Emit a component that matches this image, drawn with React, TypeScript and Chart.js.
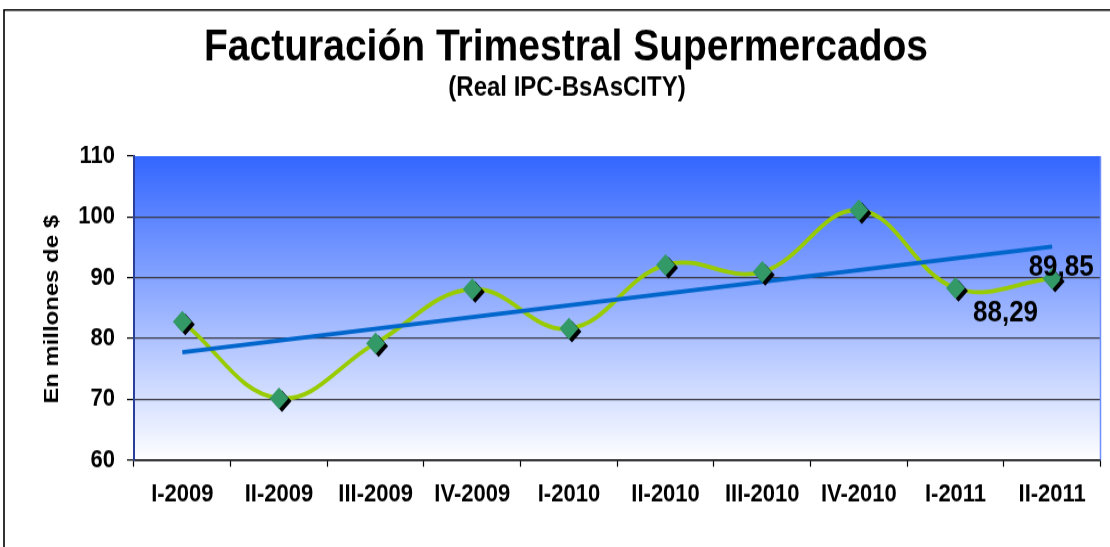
import { useEffect, useRef } from 'react';
import { Chart, registerables } from 'chart.js';

Chart.register(...registerables);

const titleText = 'Facturación Trimestral Supermercados';
const subtitleText = '(Real IPC-BsAsCITY)';
const yTitleText = 'En millones de $';

const categories = ['I-2009', 'II-2009', 'III-2009', 'IV-2009', 'I-2010', 'II-2010', 'III-2010', 'IV-2010', 'I-2011', 'II-2011'];
const facturacion = [82.75, 70.15, 79.2, 88.1, 81.6, 92.1, 90.95, 101.1, 88.29, 89.85];
const tendencia = [77.7, null, null, null, null, null, null, null, null, 95.1];
const yTicks = [60, 70, 80, 90, 100, 110];
const labeledPoints = [8, 9];

const FONT = '"Liberation Sans", Arial, Helvetica, sans-serif';
const W = 1110;
const H = 480; // internal height, stretched to 547 by CSS
const DISPLAY_H = 547;

const fmt = (v: number) => v.toFixed(2).replace('.', ',');

const decor = {
  id: 'decor',
  beforeDraw(chart: any) {
    const { ctx, chartArea: a, width, height } = chart;
    ctx.save();
    ctx.fillStyle = '#ffffff';
    ctx.fillRect(0, 0, width, height);
    const g = ctx.createLinearGradient(0, a.top, 0, a.bottom);
    g.addColorStop(0, '#3366ff');
    g.addColorStop(1, '#ffffff');
    ctx.fillStyle = g;
    ctx.fillRect(a.left, a.top, a.right - a.left, a.bottom - a.top);
    // outer frame
    ctx.strokeStyle = '#000';
    ctx.lineWidth = 1.6;
    ctx.beginPath();
    ctx.moveTo(4, height);
    ctx.lineTo(4, 8.8);
    ctx.lineTo(width, 8.8);
    ctx.stroke();
    // titles
    ctx.fillStyle = '#000';
    ctx.textAlign = 'center';
    ctx.textBaseline = 'middle';
    ctx.font = `bold 39px ${FONT}`;
    ctx.fillText(titleText, 566, 42);
    ctx.font = `bold 24px ${FONT}`;
    ctx.fillText(subtitleText, 567, 77.5);
    ctx.translate(52, 271.5);
    ctx.rotate(-Math.PI / 2);
    ctx.font = `bold 21px ${FONT}`;
    ctx.fillText(yTitleText, 0, 0);
    ctx.restore();
  },
  afterDatasetsDraw(chart: any) {
    const { ctx, chartArea: a } = chart;
    ctx.save();
    ctx.strokeStyle = '#6f8fff';
    ctx.lineWidth = 1.5;
    ctx.beginPath();
    ctx.moveTo(a.right, a.top);
    ctx.lineTo(a.right, a.bottom);
    ctx.stroke();
    const meta = chart.getDatasetMeta(1);
    ctx.fillStyle = '#000';
    ctx.textAlign = 'center';
    ctx.textBaseline = 'middle';
    ctx.font = `bold 26px ${FONT}`;
    const offsets: Record<number, [number, number]> = { 8: [50, 22], 9: [9, -9.5] };
    labeledPoints.forEach((i) => {
      const el = meta.data[i];
      if (!el) return;
      const [dx, dy] = offsets[i] || [0, -15];
      ctx.fillText(fmt(facturacion[i]), el.x + dx, el.y + dy);
    });
    ctx.restore();
  },
};

const shadow = {
  id: 'markerShadow',
  beforeDatasetDraw(chart: any, args: any) {
    if (args.index === 1) {
      const c = chart.ctx;
      c.save();
      c.shadowColor = '#000000';
      c.shadowBlur = 0;
      c.shadowOffsetX = 3;
      c.shadowOffsetY = 2.6;
    }
  },
  afterDatasetDraw(chart: any, args: any) {
    if (args.index === 1) chart.ctx.restore();
  },
};

export default function App() {
  const ref = useRef<HTMLCanvasElement | null>(null);

  useEffect(() => {
    if (!ref.current) return;
    const tickFont = { family: FONT, size: 22, weight: 'bold' as const };
    const chart = new Chart(ref.current, {
      type: 'line',
      data: {
        labels: categories,
        datasets: [
          {
            data: facturacion,
            borderColor: '#99cc00',
            borderWidth: 3.8,
            pointRadius: 0,
            tension: 0.4,
            fill: false,
            order: 2,
          },
          {
            data: facturacion,
            showLine: false,
            pointStyle: 'rectRot',
            pointRadius: 9.5,
            pointHoverRadius: 9.5,
            backgroundColor: '#339966',
            borderColor: '#339966',
            borderWidth: 0,
            order: 0,
          },
          {
            data: tendencia,
            spanGaps: true,
            borderColor: '#0066cc',
            borderWidth: 3.8,
            pointRadius: 0,
            tension: 0,
            fill: false,
            order: 1,
          },
        ],
      },
      options: {
        responsive: false,
        animation: false,
        devicePixelRatio: 1,
        layout: { padding: { top: 137, right: 3, left: 0, bottom: 0 } },
        plugins: {
          legend: { display: false },
          title: { display: false },
          tooltip: { enabled: false },
        },
        events: [],
        scales: {
          x: {
            type: 'category',
            offset: true,
            grid: {
              display: true,
              drawOnChartArea: false,
              offset: true,
              tickLength: 6,
              tickColor: '#000',
              tickWidth: 1.2,
            },
            border: { display: true, color: '#000', width: 1.5 },
            ticks: { color: '#000', font: tickFont, padding: 11.5, maxRotation: 0, autoSkip: false },
            afterFit: (s: any) => {
              s.height = 76.5;
            },
          },
          y: {
            min: 60,
            max: 110,
            afterBuildTicks: (s: any) => {
              s.ticks = yTicks.map((v) => ({ value: v }));
            },
            ticks: { color: '#000', font: tickFont, padding: 12 },
            grid: {
              color: (c: any) => (c.tick && c.tick.value === 110 ? 'rgba(0,0,0,0)' : '#3a3a48'),
              lineWidth: 1.2,
              tickLength: 7,
              tickColor: '#000',
              tickWidth: 1.2,
            },
            border: { display: true, color: '#2a3f9a', width: 2 },
            afterFit: (s: any) => {
              s.width = 134;
            },
          },
        },
      },
      plugins: [decor, shadow],
    });
    return () => chart.destroy();
  }, []);

  return (
    <div style={{ position: 'absolute', left: 0, top: 0, width: W, height: DISPLAY_H, background: '#fff' }}>
      <canvas
        ref={ref}
        width={W}
        height={H}
        style={{ width: `${W}px`, height: `${DISPLAY_H}px`, display: 'block' }}
      />
    </div>
  );
}
